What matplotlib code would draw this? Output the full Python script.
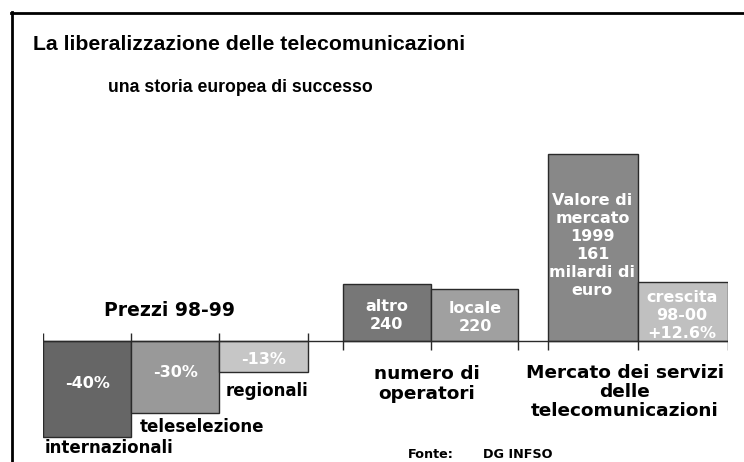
import numpy as np
import matplotlib
matplotlib.use("Agg")
import matplotlib.pyplot as plt

# =========================
# data
# =========================
prezzi_labels = ["internazionali", "teleselezione", "regionali"]
prezzi_vals = [-40, -30, -13]          # % change 98-99
prezzi_text = ["-40%", "-30%", "-13%"]

operatori_labels = ["altro\n240", "locale\n220"]
operatori_vals = [240, 220]
operatori_heights = [23.8, 21.7]       # drawn height, same units as %

mercato_labels = ["Valore di\nmercato\n1999\n161\nmilardi di\neuro",
                  "crescita\n98-00\n+12.6%"]
mercato_heights = [78, 24.6]

title = "La liberalizzazione delle telecomunicazioni"
subtitle = "una storia europea di successo"

# =========================
# figure
# =========================
W, H = 744, 462
fig = plt.figure(figsize=(W / 100, H / 100), dpi=100)
fig.patch.set_facecolor("white")

TITLE_FONT = ["Liberation Sans", "DejaVu Sans"]
FONT = ["DejaVu Sans"]


def px(x, y):
    return x / W, 1 - y / H


def ftext(x, y, s, **kw):
    kw.setdefault("family", FONT)
    kw.setdefault("weight", "bold")
    fig.text(*px(x, y), s, **kw)


# frame (top + left border)
fig.add_artist(plt.Line2D([11 / W, 1], [1 - 12.5 / H, 1 - 12.5 / H], color="black", lw=2))
fig.add_artist(plt.Line2D([12 / W, 12 / W], [1 - 12 / H, 0], color="black", lw=2))

# bar axes: x in bar slots, y in % units (baseline = 0)
x0, x1 = 43, 728
y_top, y_bot = 120, 460
ppu = 2.4  # pixels per unit
slot = (x1 - x0) / 7.73
ax = fig.add_axes([x0 / W, 1 - y_bot / H, (x1 - x0) / W, (y_bot - y_top) / H])
ax.set_xlim(0, (x1 - x0) / slot)
ax.set_ylim(-(y_bot - 341) / ppu, (341 - y_top) / ppu)
ax.axis("off")

prezzi_x = np.arange(3) * 0.995
oper_x = 3.38 + np.arange(2)
merc_x = 5.7 + np.arange(2) * 1.01

prezzi_colors = ["#666666", "#999999", "#c6c6c6"]
oper_colors = ["#777777", "#a0a0a0"]
merc_colors = ["#888888", "#c0c0c0"]

ax.bar(prezzi_x, prezzi_vals, width=0.995, align="edge",
       color=prezzi_colors, edgecolor="#2a2a2a", lw=1)
ax.bar(oper_x, operatori_heights, width=[1, 0.98], align="edge",
       color=oper_colors, edgecolor="#2a2a2a", lw=1)
ax.bar(merc_x, mercato_heights, width=[1.01, 1.02], align="edge",
       color=merc_colors, edgecolor="#2a2a2a", lw=1)

# baseline and ticks
ax.plot([0, ax.get_xlim()[1]], [0, 0], color="#2a2a2a", lw=1)
tick = 8 / ppu
left_edges = list(prezzi_x) + [prezzi_x[-1] + 0.995]
ax.vlines(left_edges, 0, tick, color="#2a2a2a", lw=1)
right_edges = list(oper_x) + [oper_x[-1] + 0.98] + list(merc_x) + [merc_x[-1] + 1.02]
ax.vlines(right_edges, -tick - 1 / ppu, 0, color="#2a2a2a", lw=1)

# values inside bars
tk = dict(color="white", ha="center", va="center", fontweight="bold",
          family=FONT, fontsize=11.5, linespacing=1.25)
for xi, v, s, f in zip(prezzi_x, prezzi_vals, prezzi_text, [0.44, 0.44, 0.58]):
    ax.text(xi + 0.5, v * f, s, **tk)
for xi, h, s in zip(oper_x, operatori_heights, operatori_labels):
    ax.text(xi + 0.5, h * 0.45, s, **tk)
ax.text(merc_x[0] + 0.5, mercato_heights[0] * 0.51, mercato_labels[0], **tk)
ax.text(merc_x[1] + 0.5, mercato_heights[1] * 0.44, mercato_labels[1], **tk)

# category labels below prezzi bars
lk = dict(color="black", fontsize=12)
ftext(45, 448, prezzi_labels[0], ha="left", va="center", **lk)
ftext(140, 427, prezzi_labels[1], ha="left", va="center", **lk)
ftext(308, 391, prezzi_labels[2], ha="right", va="center", **lk)

# titles and group headers
ftext(33, 45, title, ha="left", va="center", fontsize=15.3, family=TITLE_FONT)
ftext(108, 88, subtitle, ha="left", va="center", fontsize=12.7, family=TITLE_FONT)
ftext(169, 311, "Prezzi 98-99", ha="center", va="center", fontsize=13.5)
ftext(427, 384, "numero di\noperatori", ha="center", va="center",
      fontsize=13.3, linespacing=1.1)
ftext(625, 392, "Mercato dei servizi\ndelle\ntelecomunicazioni",
      ha="center", va="center", fontsize=13.3, linespacing=1.1)
ftext(408, 455, "Fonte:", ha="left", va="center", fontsize=9.2)
ftext(483, 455, "DG INFSO", ha="left", va="center", fontsize=9.2)

fig.savefig("out.png", dpi=100, facecolor="white")
